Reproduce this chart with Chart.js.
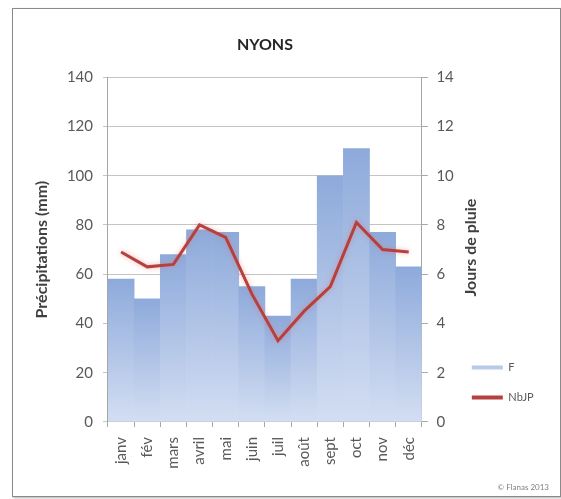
<!DOCTYPE html>
<html>
<head>
<meta charset="utf-8">
<script src="https://cdn.jsdelivr.net/npm/chart.js@4.4.0/dist/chart.umd.min.js"></script>
<style>
html, body { margin: 0; padding: 0; background: #fff; }
#frame { position: absolute; left: 12px; top: 8px; width: 547px; height: 487px; border: 1px solid #8a8a8a; box-shadow: 1px 1px 2px #b0b0b0; }
#myChart { position: absolute; left: 0; top: 0; }
</style>
</head>
<body>
<div id="frame"></div>
<canvas id="myChart" width="561" height="499"></canvas>
<script>
// monthly data, Nyons
let months = ['janv', 'fév', 'mars', 'avril', 'mai', 'juin', 'juil', 'août', 'sept', 'oct', 'nov', 'déc'];
let precip = [58, 50, 68, 78, 77, 55, 43, 58, 100, 111, 77, 63];
let rainDays = [6.9, 6.3, 6.4, 8.0, 7.5, 5.2, 3.3, 4.5, 5.5, 8.1, 7.0, 6.9];
let precipTicks = [0, 20, 40, 60, 80, 100, 120, 140];
let dayTicks = [0, 2, 4, 6, 8, 10, 12, 14];

Chart.defaults.font.family = 'Lato';
Chart.defaults.color = '#595959';

// each bar gets its own top-to-bottom gradient
function barFill(c) {
    let chart = c.chart;
    if (c.type !== 'data' || !chart.chartArea) return '#a9bfe6';
    let y = chart.scales.y;
    let top = y.getPixelForValue(c.parsed ? c.parsed.y : precip[c.dataIndex]);
    let g = chart.ctx.createLinearGradient(0, top, 0, y.getPixelForValue(0));
    g.addColorStop(0, '#8eaadb');
    g.addColorStop(1, '#d3def2');
    return g;
}

let extras = {
    id: 'extras',
    beforeDatasetDraw(chart, args) {
        if (args.index === 1) {
            chart.ctx.save();
            chart.ctx.shadowColor = 'rgba(230,110,110,0.55)';
            chart.ctx.shadowBlur = 5;
        }
    },
    afterDatasetDraw(chart, args) {
        if (args.index === 1) chart.ctx.restore();
    },
    afterDraw(chart) {
        // right axis title reads bottom to top, like the left one
        let ctx = chart.ctx;
        let area = chart.chartArea;
        ctx.save();
        ctx.translate(471, (area.top + area.bottom) / 2 - 2);
        ctx.rotate(-Math.PI / 2);
        ctx.font = 'bold 16px Lato';
        ctx.fillStyle = '#404040';
        ctx.textAlign = 'center';
        ctx.textBaseline = 'middle';
        ctx.fillText('Jours de pluie', 0, 0);
        ctx.restore();
        ctx.save();
        ctx.font = '8px Lato';
        ctx.fillStyle = '#808080';
        ctx.textAlign = 'right';
        ctx.fillText('© Flanas 2013', 549, 490);
        ctx.restore();
    }
};

let myChart = new Chart(document.getElementById('myChart').getContext('2d'), {
    type: 'bar',
    data: {
        labels: months,
        datasets: [{
            label: 'F',
            data: precip,
            backgroundColor: barFill,
            borderWidth: 0,
            barPercentage: 1,
            categoryPercentage: 1,
            yAxisID: 'y',
            order: 1
        }, {
            type: 'line',
            label: 'NbJP',
            data: rainDays,
            borderColor: '#b5413f',
            backgroundColor: '#b5413f',
            borderWidth: 3,
            pointRadius: 0,
            tension: 0,
            yAxisID: 'y1',
            order: 0
        }]
    },
    options: {
        responsive: false,
        animation: false,
        layout: {
            padding: { left: 28.4, right: 23.3, top: 25, bottom: 20.3 }
        },
        scales: {
            x: {
                grid: { drawOnChartArea: false, tickLength: 5, color: '#a6a6a6' },
                border: { color: '#a6a6a6' },
                ticks: { minRotation: 90, maxRotation: 90, padding: 10, font: { size: 15 } }
            },
            y: {
                position: 'left',
                min: 0,
                max: 140,
                afterBuildTicks: (s) => { s.ticks = precipTicks.map(v => ({ value: v })); },
                grid: { color: '#c4c4c4', tickLength: 5 },
                border: { color: '#a6a6a6' },
                ticks: { padding: 10, font: { size: 15 } },
                title: {
                    display: true,
                    text: 'Précipitations (mm)',
                    color: '#404040',
                    font: { size: 16, weight: 'bold' },
                    padding: { top: 4, bottom: 5.3 }
                }
            },
            y1: {
                position: 'right',
                min: 0,
                max: 14,
                afterBuildTicks: (s) => { s.ticks = dayTicks.map(v => ({ value: v })); },
                afterFit: (s) => { s.width = 31; },
                grid: { drawOnChartArea: false, tickLength: 6, color: '#a6a6a6' },
                border: { color: '#a6a6a6' },
                ticks: { mirror: true, crossAlign: 'far', padding: 32, font: { size: 15 } }
            }
        },
        plugins: {
            title: {
                display: true,
                text: 'NYONS',
                fullSize: false,
                color: '#262626',
                font: { size: 16, weight: 'bold' },
                padding: { top: 10, bottom: 23 }
            },
            legend: {
                position: 'right',
                align: 'end',
                fullSize: false,
                labels: {
                    boxWidth: 31,
                    boxHeight: 4,
                    padding: 19,
                    font: { size: 11 },
                    sort: (a, b) => a.datasetIndex - b.datasetIndex,
                    generateLabels: (chart) => Chart.defaults.plugins.legend.labels.generateLabels(chart).map(item => {
                        item.lineWidth = 0;
                        return item;
                    })
                }
            },
            tooltip: { enabled: false }
        }
    },
    plugins: [extras]
});
</script>
</body>
</html>
